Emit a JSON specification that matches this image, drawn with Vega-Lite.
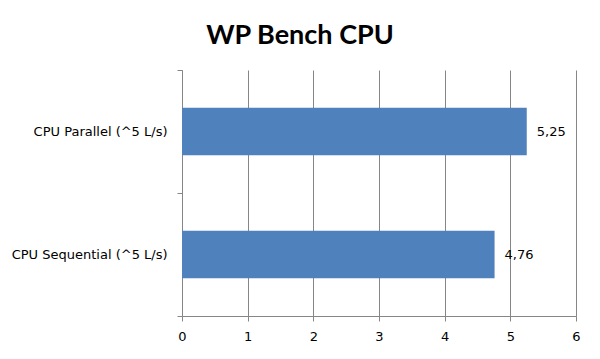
{
  "$schema": "https://vega.github.io/schema/vega-lite/v6.json",
  "width": 394,
  "height": 246,
  "autosize": {"type": "none"},
  "padding": {"left": 182, "top": 70, "right": 24, "bottom": 43},
  "background": "white",
  "title": {
    "text": "WP Bench CPU",
    "font": "Lato",
    "fontWeight": "bold",
    "fontSize": 27,
    "color": "black",
    "anchor": "middle",
    "dx": -79,
    "offset": 14
  },
  "data": {
    "values": [
      {"test": "CPU Parallel (^5 L/s)", "value": 5.25},
      {"test": "CPU Sequential (^5 L/s)", "value": 4.76}
    ]
  },
  "encoding": {
    "y": {
      "field": "test",
      "type": "nominal",
      "sort": null,
      "title": null,
      "scale": {"paddingInner": 0, "paddingOuter": 0},
      "axis": {
        "tickBand": "extent",
        "domainColor": "#868686",
        "tickColor": "#868686",
        "tickSize": 5,
        "labelPadding": 10,
        "labelFont": "DejaVu Sans",
        "labelFontSize": 13,
        "labelColor": "black",
        "grid": false
      }
    },
    "x": {
      "field": "value",
      "type": "quantitative",
      "title": null,
      "scale": {"domain": [0, 6], "nice": false},
      "axis": {
        "values": [0, 1, 2, 3, 4, 5, 6],
        "format": "d",
        "domainColor": "#868686",
        "tickColor": "#868686",
        "gridColor": "#868686",
        "grid": true,
        "tickSize": 5,
        "labelPadding": 9,
        "labelFont": "DejaVu Sans",
        "labelFontSize": 13,
        "labelColor": "black",
        "labelFlush": false
      }
    }
  },
  "layer": [
    {"mark": {"type": "bar", "color": "#4F81BD", "height": {"band": 0.385}}},
    {
      "mark": {"type": "text", "align": "left", "dx": 10, "font": "DejaVu Sans", "fontSize": 13, "color": "black"},
      "encoding": {"text": {"field": "value", "type": "quantitative", "format": ".2f"}}
    }
  ],
  "config": {
    "view": {"stroke": null},
    "locale": {"number": {"decimal": ",", "thousands": ".", "grouping": [3], "currency": ["", ""]}}
  }
}
